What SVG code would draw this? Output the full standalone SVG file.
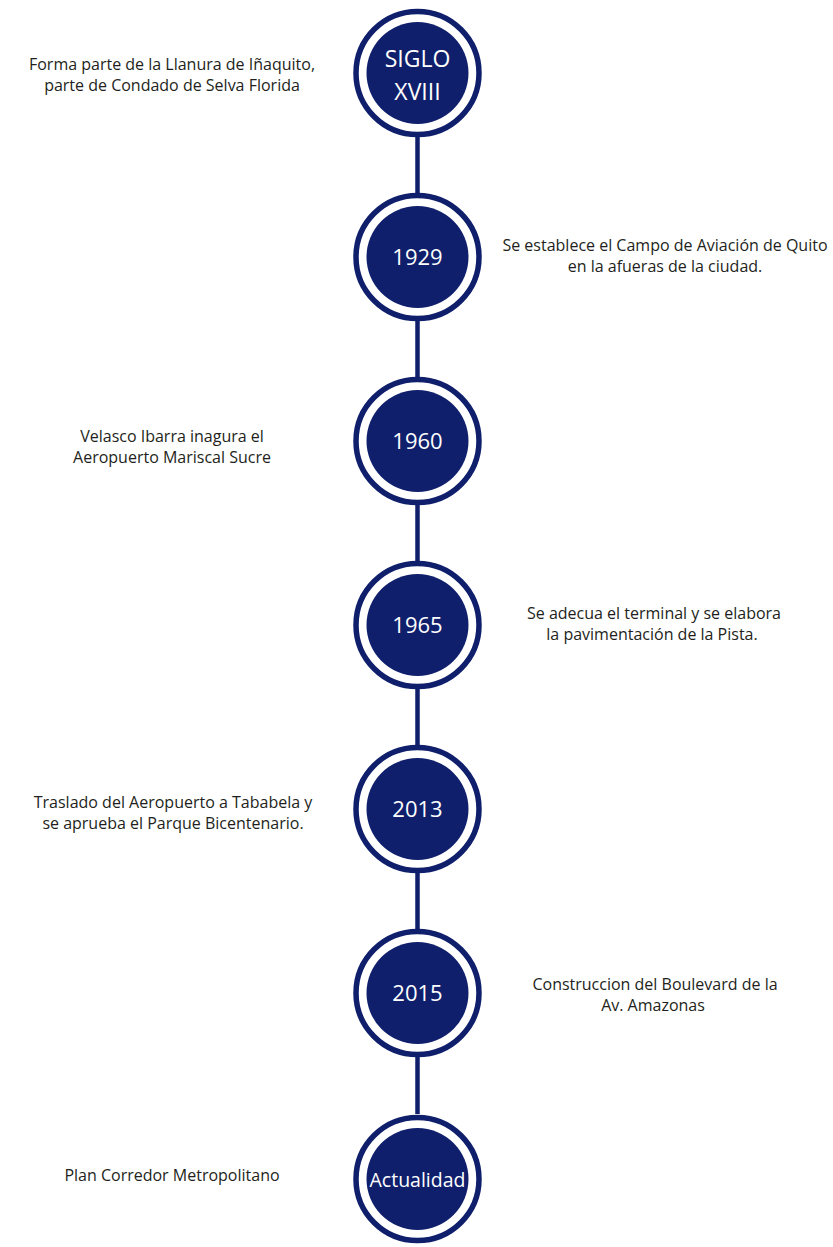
<svg xmlns="http://www.w3.org/2000/svg" width="833" height="1247" viewBox="0 0 833 1247">
<style>
.ring{fill:none;stroke:#0f1f6b;stroke-width:5.5}
.core{fill:#0f1f6b}
.yr{font-family:"Open Sans","Liberation Sans",sans-serif;font-size:22px;fill:#ffffff;text-anchor:middle}
.lbl{font-family:"Open Sans","Liberation Sans",sans-serif;font-size:16px;fill:#231f20;text-anchor:middle}
.conn{stroke:#0f1f6b;stroke-width:4.5;fill:none}
</style>
<rect width="833" height="1247" fill="#ffffff"/>
<g id="connectors">
<line class="conn" x1="417.5" y1="136" x2="417.5" y2="194"/>
<line class="conn" x1="417.5" y1="320" x2="417.5" y2="378"/>
<line class="conn" x1="417.5" y1="504" x2="417.5" y2="562"/>
<line class="conn" x1="417.5" y1="688" x2="417.5" y2="746"/>
<line class="conn" x1="417.5" y1="872" x2="417.5" y2="930"/>
<line class="conn" x1="417.5" y1="1056" x2="417.5" y2="1114"/>
</g>
<g id="node-siglo">
<circle class="ring" cx="417.5" cy="73" r="61.5"/>
<circle class="core" cx="417.5" cy="73" r="51"/>
<text class="yr" x="417.5" y="67" style="font-size:23px">SIGLO</text>
<text class="yr" x="417.5" y="100" style="font-size:23px">XVIII</text>
<text class="lbl" x="172" y="70">Forma parte de la Llanura de Iñaquito,</text>
<text class="lbl" x="172" y="91">parte de Condado de Selva Florida</text>
</g>
<g id="node-1929">
<circle class="ring" cx="417.5" cy="257" r="61.5"/>
<circle class="core" cx="417.5" cy="257" r="51"/>
<text class="yr" x="417.5" y="265">1929</text>
<text class="lbl" x="665" y="251">Se establece el Campo de Aviación de Quito</text>
<text class="lbl" x="665" y="272">en la afueras de la ciudad.</text>
</g>
<g id="node-1960">
<circle class="ring" cx="417.5" cy="441" r="61.5"/>
<circle class="core" cx="417.5" cy="441" r="51"/>
<text class="yr" x="417.5" y="449">1960</text>
<text class="lbl" x="172" y="442">Velasco Ibarra inagura el</text>
<text class="lbl" x="172" y="463">Aeropuerto Mariscal Sucre</text>
</g>
<g id="node-1965">
<circle class="ring" cx="417.5" cy="625" r="61.5"/>
<circle class="core" cx="417.5" cy="625" r="51"/>
<text class="yr" x="417.5" y="633">1965</text>
<text class="lbl" x="654" y="619">Se adecua el terminal y se elabora</text>
<text class="lbl" x="652" y="640">la pavimentación de la Pista.</text>
</g>
<g id="node-2013">
<circle class="ring" cx="417.5" cy="809" r="61.5"/>
<circle class="core" cx="417.5" cy="809" r="51"/>
<text class="yr" x="417.5" y="817">2013</text>
<text class="lbl" x="173" y="808">Traslado del Aeropuerto a Tababela y</text>
<text class="lbl" x="173" y="829">se aprueba el Parque Bicentenario.</text>
</g>
<g id="node-2015">
<circle class="ring" cx="417.5" cy="993" r="61.5"/>
<circle class="core" cx="417.5" cy="993" r="51"/>
<text class="yr" x="417.5" y="1001">2015</text>
<text class="lbl" x="655" y="990">Construccion del Boulevard de la</text>
<text class="lbl" x="653" y="1011">Av. Amazonas</text>
</g>
<g id="node-actualidad">
<circle class="ring" cx="417.5" cy="1179" r="61.5"/>
<circle class="core" cx="417.5" cy="1179" r="51"/>
<text class="yr" x="417.5" y="1187" style="font-size:19.5px">Actualidad</text>
<text class="lbl" x="172" y="1181">Plan Corredor Metropolitano</text>
</g>
</svg>
